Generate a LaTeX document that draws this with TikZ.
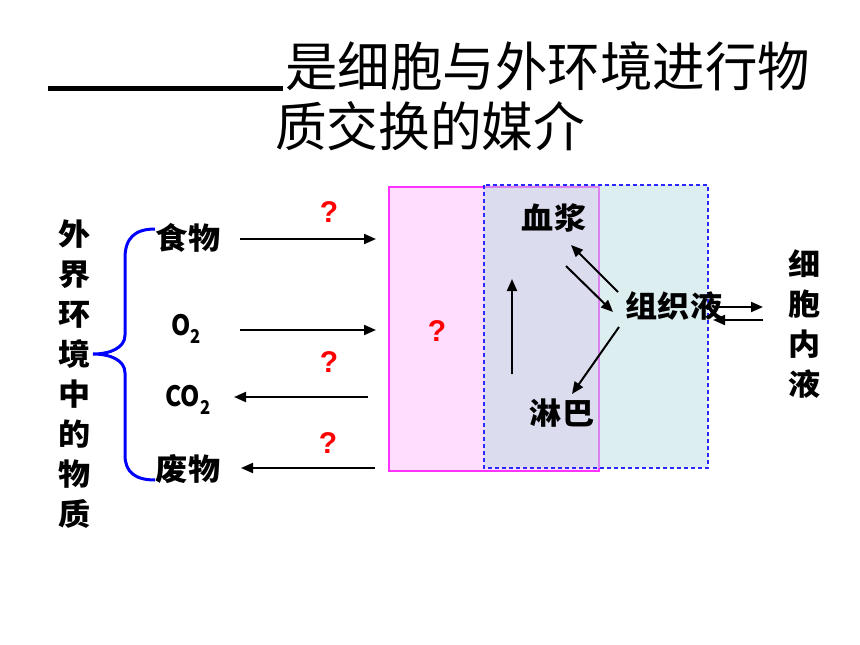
\documentclass[tikz,border=0pt]{standalone}
\usepackage{fontspec}
\usepackage{graphicx}
\usetikzlibrary{arrows.meta}
\newfontfamily\cjktitle{Noto Sans CJK SC}
\newfontfamily\cjklab{Noto Sans CJK SC}[FakeStretch=1.07]
\newfontfamily\arialq{Liberation Sans}
\definecolor{pinkfill}{RGB}{255,221,255}
\definecolor{pinkline}{RGB}{255,51,255}
\definecolor{tealfill}{RGB}{181,219,223}
\definecolor{dashblue}{RGB}{40,40,255}
\definecolor{bracecol}{RGB}{0,0,255}
\tikzset{
  lab/.style={inner sep=0pt, font=\cjklab\bfseries\fontsize{30}{30}\selectfont},
  chem/.style={inner sep=0pt, font=\cjklab\bfseries\fontsize{28}{28}\selectfont},
  qm/.style={inner sep=0pt, text=red, font=\arialq\bfseries\fontsize{30}{30}\selectfont},
  arr/.style={line width=2pt, -{Triangle[length=12pt,width=10pt]}},
  vtext/.style={inner sep=0pt, align=center, font=\cjklab\bfseries\fontsize{30}{40}\selectfont},
  ttl/.style={inner sep=0pt, font=\cjktitle\fontsize{53}{53}\selectfont}
}
\newcommand{\narrowtxt}[1]{\scalebox{0.82}[1]{#1}}
\begin{document}
\begin{tikzpicture}[x=1pt,y=-1pt]
\useasboundingbox (0,0) rectangle (860,645);
\fill[white] (0,0) rectangle (860,645);
% title
\node[ttl, anchor=west] (t1) at (285,66) {\resizebox{525pt}{\height}{是细胞与外环境进行物}};
\node[ttl, anchor=west] (t2) at (275,126) {\resizebox{310pt}{\height}{质交换的媒介}};
\draw[line width=5pt] (48,88) coordinate (ul1) -- (283,88) coordinate (ul2);
% boxes
\draw[fill=pinkfill, draw=pinkline, line width=1.2pt] (389,187) rectangle (599,471);
\fill[tealfill, fill opacity=0.47] (484,185) rectangle (708,468);
\draw[dashblue, dashed, line width=1.2pt, dash pattern=on 4pt off 3pt] (484,185) rectangle (708,468);
\node[qm] (qbox) at (437,331) {?};
% left vertical text
\node[vtext] (env) at (75,374) {外\\界\\环\\境\\中\\的\\物\\质};
% brace
\draw[bracecol, line width=3pt] (155,229) .. controls (135,229) and (125,238) .. (125,258) -- (125,335)
  .. controls (125,348) and (110,354) .. (93,354)
  .. controls (110,354) and (125,360) .. (125,373) -- (125,455)
  .. controls (125,472) and (135,480) .. (155,480);
% labels
\node[lab] (food) at (188,238) {食物};
\node[chem] (o2) at (186,329) {\narrowtxt{O\raisebox{-0.3em}{\fontsize{19}{19}\selectfont 2}}};
\node[chem] (co2) at (188,400) {\narrowtxt{CO\raisebox{-0.3em}{\fontsize{19}{19}\selectfont 2}}};
\node[lab] (waste) at (188,469) {废物};
% arrows left
\coordinate (a1s) at (240,239); \coordinate (a1e) at (376,239);
\coordinate (a2s) at (240,330); \coordinate (a2e) at (376,330);
\coordinate (a3s) at (368,397); \coordinate (a3e) at (234,397);
\coordinate (a4s) at (375,468); \coordinate (a4e) at (241,468);
\draw[arr] (a1s) -- (a1e);
\draw[arr] (a2s) -- (a2e);
\draw[arr] (a3s) -- (a3e);
\draw[arr] (a4s) -- (a4e);
\node[qm] (q1) at (329,212) {?};
\node[qm] (q2) at (329,362) {?};
\node[qm] (q3) at (328,443) {?};
% inner labels
\node[lab] (plasma) at (554,218) {血浆};
\node[lab] (tissue) at (674,306) {组织液};
\node[lab] (lymph) at (562,413) {淋巴};
\coordinate (v1) at (512,374); \coordinate (v2) at (512,279);
\draw[arr] (v1) -- (v2);
\coordinate (p1) at (618,292); \coordinate (p2) at (571,245);
\draw[arr] (p1) -- (p2);
\coordinate (p3) at (566,266); \coordinate (p4) at (613,312);
\draw[arr] (p3) -- (p4);
\coordinate (p5) at (619,327); \coordinate (p6) at (572,394);
\draw[arr] (p5) -- (p6);
\coordinate (r1) at (718,307); \coordinate (r2) at (763,307);
\draw[arr] (r1) -- (r2);
\coordinate (r3) at (763,320); \coordinate (r4) at (713,320);
\draw[arr] (r3) -- (r4);
\node[vtext] (cell) at (805,324) {细\\胞\\内\\液};
\end{tikzpicture}
\end{document}
